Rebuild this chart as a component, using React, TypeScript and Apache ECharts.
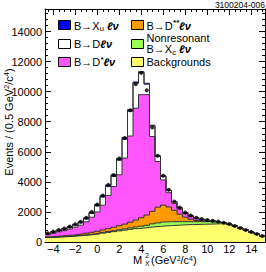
import React, { useEffect, useRef } from "react";
import * as echarts from "echarts";

// Bin centers (GeV^2/c^4), bin width 0.5
const binCenters = [
  -4.5, -4, -3.5, -3, -2.5, -2, -1.5, -1, -0.5, 0, 0.5, 1, 1.5, 2, 2.5, 3, 3.5, 4, 4.5, 5,
  5.5, 6, 6.5, 7, 7.5, 8, 8.5, 9, 9.5, 10, 10.5, 11, 11.5, 12, 12.5, 13, 13.5, 14, 14.5, 15,
];
const BIN_HALF = 0.25;

// Data points
const dataPoints = [
  580, 690, 800, 900, 1030, 1180, 1340, 1610, 1990, 2500, 3100, 3800, 4450, 5560, 6920, 8760,
  10500, 11250, 10100, 7620, 5740, 4410, 3470, 2690, 2290, 1960, 1760, 1620, 1530, 1470, 1420,
  1360, 1290, 1200, 1070, 930, 800, 670, 530, 400,
];

// Stacked MC components (bottom to top)
const backgrounds = [
  290, 310, 330, 350, 370, 400, 430, 460, 500, 540, 590, 640, 690, 740, 790, 840, 890, 930, 970,
  1010, 1040, 1070, 1090, 1110, 1130, 1150, 1160, 1170, 1180, 1190, 1200, 1210, 1200, 1150, 1040,
  910, 780, 650, 520, 390,
];
const nonresonant = [
  15, 18, 20, 22, 25, 28, 32, 36, 40, 45, 50, 55, 60, 70, 80, 95, 110, 125, 140, 200, 230, 260,
  260, 240, 220, 200, 190, 180, 170, 160, 140, 120, 80, 40, 20, 10, 8, 6, 4, 3,
];
const dStarStar = [
  40, 45, 50, 55, 60, 70, 80, 95, 110, 130, 160, 190, 230, 270, 320, 380, 460, 560, 680, 830,
  1050, 1120, 980, 760, 500, 300, 160, 70, 30, 10, 0, 0, 0, 0, 0, 0, 0, 0, 0, 0,
];
const dStar = [
  150, 210, 275, 330, 410, 490, 580, 750, 1000, 1285, 1650, 2215, 2710, 3390, 4390, 5735, 7440,
  8185, 8010, 4980, 3030, 1680, 950, 470, 340, 240, 180, 140, 100, 70, 50, 10, 4, 4, 5, 5, 6, 8,
  3, 5,
];
const dLnu = [
  55, 72, 85, 98, 115, 132, 148, 189, 250, 400, 540, 585, 670, 970, 1260, 1650, 1660, 1450, 700,
  700, 350, 240, 145, 100, 75, 58, 50, 40, 32, 22, 14, 5, 1, 2, 2, 3, 4, 5, 2, 2,
];
const xuLnu = [
  30, 35, 40, 45, 50, 60, 70, 80, 90, 100, 110, 115, 120, 120, 110, 100, 90, 80, 60, 50, 40, 30,
  25, 20, 15, 12, 10, 10, 8, 8, 6, 5, 5, 4, 3, 2, 2, 1, 1, 0,
];

const xMajorTicks = [-4, -2, 0, 2, 4, 6, 8, 10, 12, 14];
const xMinorTicks = [
  -4.5, -3.5, -3, -2.5, -1.5, -1, -0.5, 0.5, 1, 1.5, 2.5, 3, 3.5, 4.5, 5, 5.5, 6.5, 7, 7.5, 8.5, 9,
  9.5, 10.5, 11, 11.5, 12.5, 13, 13.5, 14.5, 15,
];

const FONT = "Liberation Sans";

const components = [
  { name: "Backgrounds", values: backgrounds, color: "#ffff70" },
  { name: "Nonresonant", values: nonresonant, color: "#99ff55" },
  { name: "DStarStar", values: dStarStar, color: "#ff9a00" },
  { name: "DStar", values: dStar, color: "#ff55ff" },
  { name: "D", values: dLnu, color: "#ffffff" },
  { name: "Xu", values: xuLnu, color: "#0000ff" },
];

// cumulative sums (bottom-up) for a stacked histogram
function cumulative() {
  const out: number[][] = [];
  let acc = binCenters.map(() => 0);
  for (const c of components) {
    acc = acc.map((v, i) => v + c.values[i]);
    out.push(acc.slice());
  }
  return out;
}

function stepData(values: number[]) {
  const pts = binCenters.map((c, i) => [c - BIN_HALF, values[i]]);
  pts.push([binCenters[binCenters.length - 1] + BIN_HALF, values[values.length - 1]]);
  return pts;
}

const rich = {
  n: { fontSize: 11, fontFamily: FONT, color: "#000", lineHeight: 14 },
  i: { fontSize: 11, fontFamily: FONT, color: "#000", lineHeight: 14, fontStyle: "italic", fontWeight: "bold" },
  sub: { fontSize: 7.5, fontFamily: FONT, color: "#000", lineHeight: 8, verticalAlign: "bottom" },
  sup: { fontSize: 7.5, fontFamily: FONT, color: "#000", lineHeight: 8, verticalAlign: "top" },
  supB: { fontSize: 8, fontFamily: FONT, color: "#000", lineHeight: 8, verticalAlign: "top", fontWeight: "bold", fontStyle: "italic" },
};

const richTitle = {
  n: { fontSize: 11, fontFamily: FONT, color: "#000", lineHeight: 11 },
  sup: { fontSize: 7, fontFamily: FONT, color: "#000", lineHeight: 7, verticalAlign: "top" },
};

function legendText(x: number, y: number, text: string) {
  return {
    type: "text",
    x,
    y,
    style: { text, rich, verticalAlign: "middle", align: "left", fill: "#000" },
    z: 10,
  };
}

function legendBox(x: number, y: number, color: string) {
  return {
    type: "rect",
    shape: { x, y, width: 12, height: 9 },
    style: { fill: color, stroke: "#000", lineWidth: 1 },
    z: 10,
  };
}

export default function App() {
  const ref = useRef<HTMLDivElement>(null);
  useEffect(() => {
    if (!ref.current) return;
    const chart = echarts.init(ref.current, null, { renderer: "svg" });
    const axisText = { fontSize: 11, fontFamily: FONT, color: "#000" };
    const lineStyle = { color: "#000", width: 1 };

    const cum = cumulative();
    // draw from the top of the stack downward so lower components paint over
    const order = components.map((_, i) => i).reverse();
    const areaSeries = order.map((k) => ({
      type: "line",
      name: components[k].name,
      step: "end",
      symbol: "none",
      showSymbol: false,
      data: stepData(cum[k]),
      lineStyle: { width: 0, opacity: 0 },
      areaStyle: { color: components[k].color, opacity: 1, origin: "start" },
      z: 2,
      silent: true,
    }));
    const outlineSeries = order.map((k) => ({
      type: "line",
      name: components[k].name + "-outline",
      step: "end",
      symbol: "none",
      showSymbol: false,
      data: stepData(cum[k]),
      lineStyle: { color: "#333", width: 1 },
      z: 3,
      silent: true,
    }));

    chart.setOption({
      animation: false,
      grid: { left: 45, right: 1, top: 9, bottom: 30, containLabel: false },
      xAxis: [
        {
          type: "value",
          min: -4.75,
          max: 15.25,
          position: "bottom",
          axisLine: { show: true, onZero: false, lineStyle },
          axisTick: { show: true, inside: true, length: 6, customValues: xMajorTicks, lineStyle },
          axisLabel: {
            ...axisText,
            margin: 1,
            customValues: xMajorTicks,
            formatter: (v: number) => (v < 0 ? "\u2212" + Math.abs(v) : String(v)),
          },
          splitLine: { show: false },
        },
        {
          type: "value",
          min: -4.75,
          max: 15.25,
          position: "bottom",
          axisLine: { show: false, onZero: false },
          axisTick: { show: true, inside: true, length: 3, customValues: xMinorTicks, lineStyle },
          axisLabel: { show: false },
          splitLine: { show: false },
        },
        {
          type: "value",
          min: -4.75,
          max: 15.25,
          position: "top",
          axisLine: { show: true, onZero: false, lineStyle },
          axisTick: { show: true, inside: true, length: 6, customValues: xMajorTicks, lineStyle },
          axisLabel: { show: false },
          splitLine: { show: false },
        },
        {
          type: "value",
          min: -4.75,
          max: 15.25,
          position: "top",
          axisLine: { show: false, onZero: false },
          axisTick: { show: true, inside: true, length: 3, customValues: xMinorTicks, lineStyle },
          axisLabel: { show: false },
          splitLine: { show: false },
        },
      ],
      yAxis: [
        {
          type: "value",
          min: 0,
          max: 15500,
          interval: 2000,
          position: "left",
          axisLine: { show: true, onZero: false, lineStyle },
          axisTick: { show: true, inside: true, length: 6, lineStyle },
          minorTick: { show: true, splitNumber: 5, length: 3, lineStyle },
          axisLabel: {
            ...axisText,
            margin: 3,
            formatter: (v: number) => (v % 2000 === 0 ? String(v) : ""),
          },
          splitLine: { show: false },
        },
        {
          type: "value",
          min: 0,
          max: 15500,
          interval: 2000,
          position: "right",
          axisLine: { show: true, onZero: false, lineStyle },
          axisTick: { show: true, inside: true, length: 6, lineStyle },
          minorTick: { show: true, splitNumber: 5, length: 3, lineStyle },
          axisLabel: { show: false },
          splitLine: { show: false },
        },
      ],
      series: [
        ...areaSeries,
        ...outlineSeries,
        {
          type: "scatter",
          name: "Data",
          data: binCenters.map((c, i) => [c, dataPoints[i]]),
          symbol: "circle",
          symbolSize: 4,
          itemStyle: { color: "#000" },
          z: 5,
          silent: true,
        },
      ],
      graphic: [
        legendBox(58.5, 20.5, "#0000ff"),
        legendBox(58.5, 39.5, "#ffffff"),
        legendBox(58.5, 57.5, "#ff55ff"),
        legendBox(131.5, 20.5, "#ff9a00"),
        legendBox(131.5, 39.5, "#99ff55"),
        legendBox(131.5, 57.5, "#ffff70"),
        legendText(74, 25.5, "{n|B\u2192X}{sub|u}{i| \u2113\u03bd}"),
        legendText(74, 44, "{n|B\u2192D}{i|\u2113\u03bd}"),
        legendText(74, 62, "{n|B\u2192D}{supB|*}{i|\u2113\u03bd}"),
        legendText(146.5, 25.5, "{n|B\u2192D}{supB|**}{i|\u2113\u03bd}"),
        legendText(146.5, 37.5, "{n|Nonresonant}"),
        legendText(146.5, 49, "{n|B\u2192X}{sub|c}{i| \u2113\u03bd}"),
        legendText(146.5, 61.5, "{n|Backgrounds}"),
        {
          type: "text",
          x: 265,
          y: 4.5,
          style: {
            text: "3100204-006",
            fontSize: 8.5,
            fontFamily: FONT,
            fill: "#000",
            align: "right",
            verticalAlign: "middle",
          },
        },
        {
          type: "text",
          x: 9,
          y: 122,
          rotation: Math.PI / 2,
          style: {
            text: "{n|Events / (0.5 GeV}{sup|2}{n|/c}{sup|4}{n|)}",
            rich,
            align: "center",
            verticalAlign: "middle",
          },
        },
        {
          type: "text",
          x: 133,
          y: 260,
          style: { text: "M", fontSize: 11, fontFamily: FONT, fill: "#000", align: "left", verticalAlign: "middle" },
        },
        {
          type: "text",
          x: 145,
          y: 255.5,
          style: { text: "2", fontSize: 7, fontFamily: FONT, fill: "#000", align: "left", verticalAlign: "middle" },
        },
        {
          type: "text",
          x: 145,
          y: 263.5,
          style: { text: "X", fontSize: 7, fontFamily: FONT, fill: "#000", align: "left", verticalAlign: "middle" },
        },
        {
          type: "text",
          x: 151,
          y: 260,
          style: {
            text: "{n|(GeV}{sup|2}{n|/c}{sup|4}{n|)}",
            rich: richTitle,
            align: "left",
            verticalAlign: "middle",
          },
        },
      ],
    });
    return () => chart.dispose();
  }, []);
  return (
    <div
      ref={ref}
      style={{ position: "absolute", left: 0, top: 0, width: 266, height: 272, background: "#fff" }}
    />
  );
}
